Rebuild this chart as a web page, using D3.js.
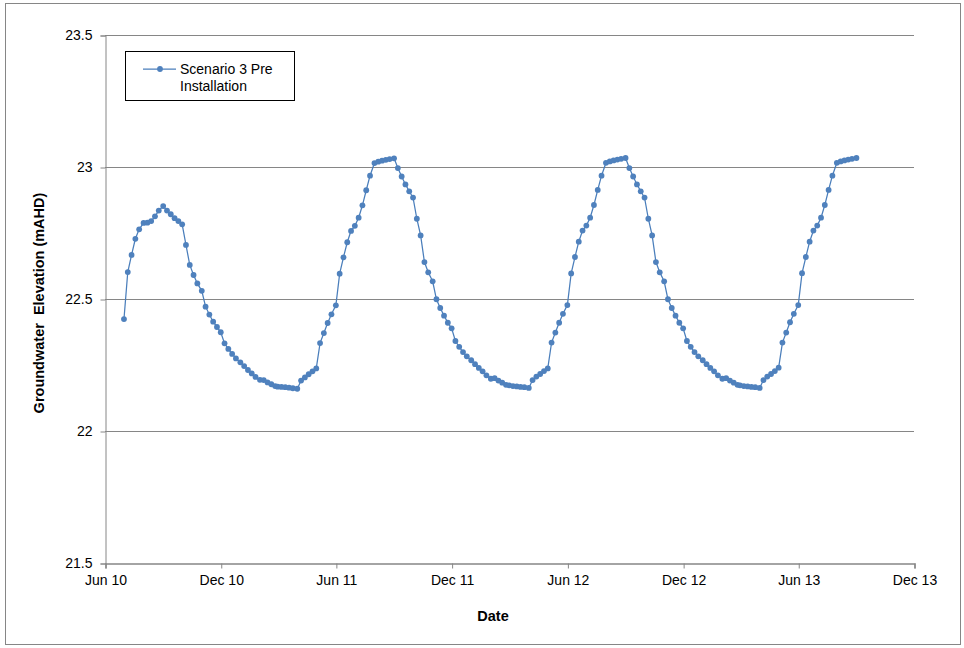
<!DOCTYPE html>
<html>
<head>
<meta charset="utf-8">
<script src="https://cdn.jsdelivr.net/npm/d3@7"></script>
<style>
  body { margin: 0; background: #fff; }
  svg { display: block; }
  text { font-family: "Liberation Sans", Arial, sans-serif; fill: #000; }
</style>
</head>
<body>
<svg id="chart" width="964" height="648"></svg>
<script>
// Groundwater level readings, sampled on the 1st, 7th, 13th, 19th and 25th of each month
const sampleDays = [1, 7, 13, 19, 25];

// Jul 2010 – Dec 2010
const level2010 = [
  22.424, 22.602, 22.667, 22.728, 22.764, 22.788, 22.789, 22.795, 22.813, 22.835,
  22.852, 22.835, 22.821, 22.806, 22.795, 22.783, 22.705, 22.629, 22.591, 22.559,
  22.531, 22.471, 22.441, 22.414, 22.394, 22.374, 22.332, 22.311, 22.292, 22.275
];
// Jan 2011 – Dec 2011
const level2011 = [
  22.260, 22.246, 22.231, 22.218, 22.205, 22.194, 22.193, 22.184, 22.177, 22.170,
  22.168, 22.167, 22.166, 22.164, 22.162, 22.160, 22.191, 22.203, 22.215, 22.226,
  22.237, 22.333, 22.371, 22.409, 22.442, 22.476, 22.596, 22.658, 22.715, 22.758,
  22.777, 22.808, 22.855, 22.912, 22.967, 23.015, 23.020, 23.024, 23.027, 23.030,
  23.033, 22.996, 22.964, 22.934, 22.908, 22.884, 22.804, 22.741, 22.640, 22.601,
  22.567, 22.499, 22.466, 22.437, 22.410, 22.389, 22.341, 22.319, 22.299, 22.283
];
// Jan 2012 – Dec 2012
const level2012 = [
  22.268, 22.253, 22.239, 22.226, 22.211, 22.198, 22.200, 22.191, 22.183, 22.175,
  22.173, 22.170, 22.169, 22.167, 22.166, 22.163, 22.193, 22.206, 22.216, 22.227,
  22.237, 22.335, 22.373, 22.410, 22.444, 22.477, 22.597, 22.659, 22.717, 22.759,
  22.778, 22.808, 22.856, 22.913, 22.967, 23.016, 23.021, 23.025, 23.028, 23.031,
  23.034, 22.996, 22.964, 22.934, 22.908, 22.884, 22.804, 22.741, 22.640, 22.601,
  22.567, 22.499, 22.466, 22.437, 22.410, 22.389, 22.341, 22.319, 22.299, 22.283
];
// Jan 2013 – 1 Sep 2013
const level2013 = [
  22.268, 22.253, 22.239, 22.226, 22.211, 22.198, 22.200, 22.191, 22.183, 22.175,
  22.173, 22.170, 22.169, 22.167, 22.166, 22.163, 22.193, 22.206, 22.216, 22.227,
  22.240, 22.335, 22.373, 22.412, 22.444, 22.477, 22.598, 22.659, 22.717, 22.759,
  22.778, 22.808, 22.856, 22.913, 22.967, 23.016, 23.021, 23.025, 23.028, 23.031,
  23.034
];

const seriesLabel = ["Scenario 3 Pre", "Installation"];
const yTicks = [21.5, 22, 22.5, 23, 23.5];
const xTickDates = ["2010-06-01", "2010-12-01", "2011-06-01", "2011-12-01",
                    "2012-06-01", "2012-12-01", "2013-06-01", "2013-12-01"];
const xTickLabels = ["Jun 10", "Dec 10", "Jun 11", "Dec 11", "Jun 12", "Dec 12", "Jun 13", "Dec 13"];
const yTitle = "Groundwater\u00a0 Elevation (mAHD)";
const xTitle = "Date";

// Pair each reading with its sampling date
function withDates(values, year, firstMonth) {
  return values.map((v, k) => ({
    date: new Date(year, firstMonth + Math.floor(k / sampleDays.length), sampleDays[k % sampleDays.length]),
    value: v
  }));
}
const data = [
  ...withDates(level2010, 2010, 6),
  ...withDates(level2011, 2011, 0),
  ...withDates(level2012, 2012, 0),
  ...withDates(level2013, 2013, 0)
];

const parse = d3.timeParse("%Y-%m-%d");
const tickDates = xTickDates.map(parse);

const svg = d3.select("#chart");
const plot = { left: 105, right: 914, top: 35, bottom: 563 };
const axisColor = "#868686";
const lineColor = "#4A7EBB";
const markerColor = "#4F81BD";

const x = d3.scaleTime()
  .domain([tickDates[0], tickDates[tickDates.length - 1]])
  .range([plot.left, plot.right]);
const y = d3.scaleLinear()
  .domain([yTicks[0], yTicks[yTicks.length - 1]])
  .range([plot.bottom, plot.top]);

// Outer chart frame
svg.append("rect")
  .attr("x", 5.5).attr("y", 3.5)
  .attr("width", 955).attr("height", 641)
  .attr("fill", "#fff")
  .attr("stroke", axisColor).attr("stroke-width", 1);

// Horizontal gridlines
svg.append("g")
  .selectAll("line")
  .data(yTicks.slice(1))
  .join("line")
  .attr("x1", plot.left).attr("x2", plot.right)
  .attr("y1", d => Math.round(y(d)) + 0.5)
  .attr("y2", d => Math.round(y(d)) + 0.5)
  .attr("stroke", axisColor).attr("stroke-width", 1);

// Y axis
const yAxis = svg.append("g")
  .attr("transform", `translate(${plot.left + 0.5},0.5)`)
  .call(d3.axisLeft(y).tickValues(yTicks).tickFormat(d3.format("")).tickSize(5).tickPadding(8));
yAxis.select(".domain").attr("stroke", axisColor);
yAxis.selectAll(".tick line").attr("stroke", axisColor);
yAxis.selectAll(".tick text")
  .attr("font-size", 14)
  .attr("font-family", "'Liberation Sans', Arial, sans-serif")
  .attr("fill", "#000");

// X axis
const xAxis = svg.append("g")
  .attr("transform", `translate(0.5,${Math.round(plot.bottom) + 0.5})`)
  .call(d3.axisBottom(x).tickValues(tickDates)
    .tickFormat((d, i) => xTickLabels[i]).tickSize(5).tickPadding(7));
xAxis.select(".domain").attr("stroke", axisColor).attr("stroke-width", 1.5);
xAxis.selectAll(".tick line").attr("stroke", axisColor);
xAxis.selectAll(".tick text")
  .attr("font-size", 14)
  .attr("font-family", "'Liberation Sans', Arial, sans-serif")
  .attr("fill", "#000");

// Series line and markers
svg.append("path")
  .datum(data)
  .attr("fill", "none")
  .attr("stroke", lineColor)
  .attr("stroke-width", 1.25)
  .attr("d", d3.line().x(d => x(d.date)).y(d => y(d.value)));

svg.append("g")
  .selectAll("circle")
  .data(data)
  .join("circle")
  .attr("cx", d => x(d.date))
  .attr("cy", d => y(d.value))
  .attr("r", 2.9)
  .attr("fill", markerColor);

// Axis titles
svg.append("text")
  .attr("transform", `translate(44,${(plot.top + plot.bottom) / 2 + 4}) rotate(-90)`)
  .attr("text-anchor", "middle")
  .attr("font-size", 14.5)
  .attr("font-weight", "bold")
  .text(yTitle);

svg.append("text")
  .attr("x", 493).attr("y", 621)
  .attr("text-anchor", "middle")
  .attr("font-size", 14.5)
  .attr("font-weight", "bold")
  .text(xTitle);

// Legend
const legend = svg.append("g");
legend.append("rect")
  .attr("x", 125.5).attr("y", 51.5)
  .attr("width", 169).attr("height", 49)
  .attr("fill", "#fff").attr("stroke", "#000").attr("stroke-width", 1);
legend.append("line")
  .attr("x1", 143).attr("x2", 176).attr("y1", 69).attr("y2", 69)
  .attr("stroke", lineColor).attr("stroke-width", 1.25);
legend.append("circle")
  .attr("cx", 160).attr("cy", 69).attr("r", 2.9).attr("fill", markerColor);
legend.append("text")
  .attr("x", 180).attr("y", 74)
  .attr("font-size", 14)
  .selectAll("tspan")
  .data(seriesLabel)
  .join("tspan")
  .attr("x", 180)
  .attr("dy", (d, i) => i === 0 ? 0 : 16.5)
  .text(d => d);
</script>
</body>
</html>
